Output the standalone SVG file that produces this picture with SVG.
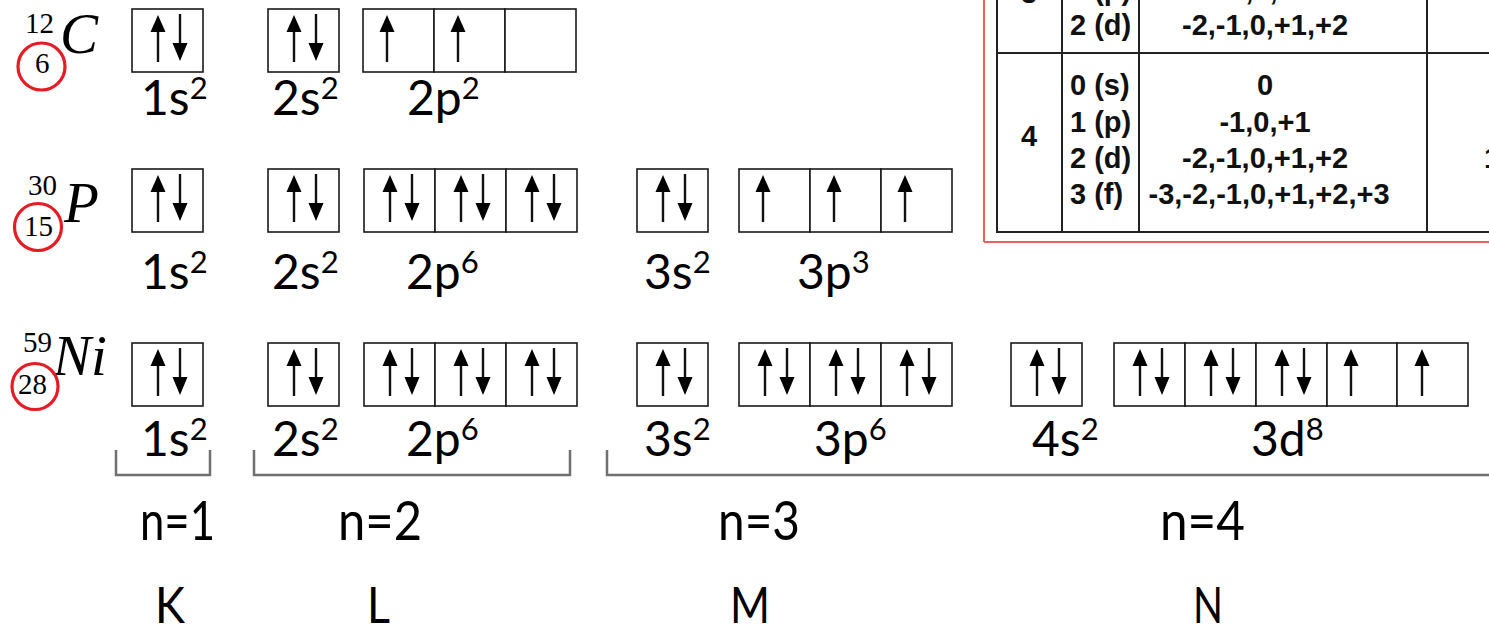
<svg xmlns="http://www.w3.org/2000/svg" xmlns:xlink="http://www.w3.org/1999/xlink" width="1489" height="626" viewBox="0 0 1489 626">
<style>
.box{fill:#fff;stroke:#1a1a1a;stroke-width:1.6}
.lbl{font-family:Lato,"Open Sans",sans-serif;font-size:48px;fill:#000}
.sup{font-size:31px}
.big{font-family:Lato,"Open Sans",sans-serif;font-size:54px;fill:#000}
.shell{font-family:Lato,"Open Sans",sans-serif;font-size:50px;fill:#000}
.num{font-family:"Liberation Serif",serif;font-size:29px;fill:#000}
.sym{font-family:"Liberation Serif",serif;font-style:italic;font-size:57px;fill:#000}
.zc{fill:none;stroke:#e51c23;stroke-width:3.2}
.tb{font-family:"Liberation Sans",Arial,sans-serif;font-weight:bold;font-size:29px;fill:#111}
.tl{stroke:#222;stroke-width:2;fill:none}
.br{stroke:#707070;stroke-width:2.5;fill:none}
</style>
<defs>
<g id="up"><rect x="-1.2" y="22" width="2.4" height="31" fill="#111"/><path d="M0,6 L7.5,23 L-7.5,23 Z" fill="#000"/></g>
<g id="dn"><rect x="-1.2" y="5" width="2.4" height="30" fill="#111"/><path d="M-7.5,34 L7.5,34 L0,52 Z" fill="#000"/></g>
<g id="pair"><use xlink:href="#up" x="26"/><use xlink:href="#dn" x="48"/></g>
<g id="single"><use xlink:href="#up" x="24"/></g>
</defs>

<!-- Quantum number table (partial, top right) -->
<g id="table">
<line x1="984" y1="0" x2="984" y2="242" stroke="#e8635a" stroke-width="2"/>
<line x1="984" y1="242" x2="1489" y2="242" stroke="#e8635a" stroke-width="2"/>
<line class="tl" x1="997" y1="0" x2="997" y2="233"/>
<line class="tl" x1="1062" y1="0" x2="1062" y2="233"/>
<line class="tl" x1="1139" y1="0" x2="1139" y2="233"/>
<line class="tl" x1="1427" y1="0" x2="1427" y2="233"/>
<line class="tl" x1="997" y1="53" x2="1489" y2="53"/>
<line class="tl" x1="997" y1="232" x2="1489" y2="232"/>
<text class="tb" x="1029" y="3" text-anchor="middle">3</text>
<text class="tb" x="1070" y="0">1 (p)</text>
<text class="tb" x="1265" y="0" text-anchor="middle">-1,0,+1</text>
<text class="tb" x="1070" y="35">2 (d)</text>
<text class="tb" x="1265" y="35" text-anchor="middle">-2,-1,0,+1,+2</text>
<text class="tb" x="1029" y="146" text-anchor="middle">4</text>
<text class="tb" x="1070" y="95">0 (s)</text>
<text class="tb" x="1070" y="132">1 (p)</text>
<text class="tb" x="1070" y="168">2 (d)</text>
<text class="tb" x="1070" y="204">3 (f)</text>
<text class="tb" x="1265" y="95" text-anchor="middle">0</text>
<text class="tb" x="1265" y="132" text-anchor="middle">-1,0,+1</text>
<text class="tb" x="1265" y="168" text-anchor="middle">-2,-1,0,+1,+2</text>
<text class="tb" x="1269" y="204" text-anchor="middle">-3,-2,-1,0,+1,+2,+3</text>
<text class="tb" x="1484" y="168">1</text>
</g>

<!-- Carbon -->
<g id="carbon">
<g id="c-symbol">
<text class="num" x="25" y="33" font-size="30">12</text>
<text class="sym" x="60" y="53">C</text>
<circle class="zc" cx="41.5" cy="66.5" r="23.5"/>
<text class="num" x="35" y="73" font-size="28">6</text>
</g>
<g id="c-1s"><rect class="box" x="132" y="9" width="71" height="63"/><use xlink:href="#pair" x="132" y="9"/><text class="lbl" x="141" y="115">1s<tspan class="sup" dy="-16">2</tspan></text></g>
<g id="c-2s"><rect class="box" x="268" y="9" width="71" height="63"/><use xlink:href="#pair" x="268" y="9"/><text class="lbl" x="272" y="115">2s<tspan class="sup" dy="-16">2</tspan></text></g>
<g id="c-2p"><rect class="box" x="363" y="9" width="71" height="63"/><rect class="box" x="434" y="9" width="71" height="63"/><rect class="box" x="505" y="9" width="71" height="63"/><use xlink:href="#single" x="363" y="9"/><use xlink:href="#single" x="434" y="9"/><text class="lbl" x="407" y="115">2p<tspan class="sup" dy="-16">2</tspan></text></g>
</g>

<!-- Phosphorus -->
<g id="phosphorus">
<g id="p-symbol">
<text class="num" x="28" y="195" font-size="28">30</text>
<text class="sym" x="64" y="222" font-size="55">P</text>
<circle class="zc" cx="38" cy="227" r="23.5"/>
<text class="num" x="24" y="236" font-size="28">15</text>
</g>
<g id="p-1s"><rect class="box" x="132" y="169" width="71" height="63"/><use xlink:href="#pair" x="132" y="169"/><text class="lbl" x="141" y="289">1s<tspan class="sup" dy="-16">2</tspan></text></g>
<g id="p-2s"><rect class="box" x="268" y="169" width="71" height="63"/><use xlink:href="#pair" x="268" y="169"/><text class="lbl" x="272" y="289">2s<tspan class="sup" dy="-16">2</tspan></text></g>
<g id="p-2p"><rect class="box" x="364" y="169" width="71" height="63"/><rect class="box" x="435" y="169" width="71" height="63"/><rect class="box" x="506" y="169" width="71" height="63"/><use xlink:href="#pair" x="364" y="169"/><use xlink:href="#pair" x="435" y="169"/><use xlink:href="#pair" x="506" y="169"/><text class="lbl" x="406" y="289">2p<tspan class="sup" dy="-16">6</tspan></text></g>
<g id="p-3s"><rect class="box" x="637" y="169" width="71" height="63"/><use xlink:href="#pair" x="637" y="169"/><text class="lbl" x="644" y="289">3s<tspan class="sup" dy="-16">2</tspan></text></g>
<g id="p-3p"><rect class="box" x="739" y="169" width="71" height="63"/><rect class="box" x="810" y="169" width="71" height="63"/><rect class="box" x="881" y="169" width="71" height="63"/><use xlink:href="#single" x="739" y="169"/><use xlink:href="#single" x="810" y="169"/><use xlink:href="#single" x="881" y="169"/><text class="lbl" x="797" y="289">3p<tspan class="sup" dy="-16">3</tspan></text></g>
</g>

<!-- Nickel -->
<g id="nickel">
<g id="ni-symbol">
<text class="num" x="23" y="352" font-size="28">59</text>
<text class="sym" x="53" y="375" font-size="55">Ni</text>
<circle class="zc" cx="35" cy="386.5" r="23"/>
<text class="num" x="18" y="394" font-size="28">28</text>
</g>
<g id="ni-1s"><rect class="box" x="132" y="343" width="71" height="63"/><use xlink:href="#pair" x="132" y="343"/><text class="lbl" x="141" y="456">1s<tspan class="sup" dy="-16">2</tspan></text></g>
<g id="ni-2s"><rect class="box" x="268" y="343" width="71" height="63"/><use xlink:href="#pair" x="268" y="343"/><text class="lbl" x="272" y="456">2s<tspan class="sup" dy="-16">2</tspan></text></g>
<g id="ni-2p"><rect class="box" x="364" y="343" width="71" height="63"/><rect class="box" x="435" y="343" width="71" height="63"/><rect class="box" x="506" y="343" width="71" height="63"/><use xlink:href="#pair" x="364" y="343"/><use xlink:href="#pair" x="435" y="343"/><use xlink:href="#pair" x="506" y="343"/><text class="lbl" x="406" y="456">2p<tspan class="sup" dy="-16">6</tspan></text></g>
<g id="ni-3s"><rect class="box" x="637" y="343" width="71" height="63"/><use xlink:href="#pair" x="637" y="343"/><text class="lbl" x="644" y="456">3s<tspan class="sup" dy="-16">2</tspan></text></g>
<g id="ni-3p"><rect class="box" x="739" y="343" width="71" height="63"/><rect class="box" x="810" y="343" width="71" height="63"/><rect class="box" x="881" y="343" width="71" height="63"/><use xlink:href="#pair" x="739" y="343"/><use xlink:href="#pair" x="810" y="343"/><use xlink:href="#pair" x="881" y="343"/><text class="lbl" x="814" y="456">3p<tspan class="sup" dy="-16">6</tspan></text></g>
<g id="ni-4s"><rect class="box" x="1011" y="343" width="71" height="63"/><use xlink:href="#pair" x="1011" y="343"/><text class="lbl" x="1032" y="456">4s<tspan class="sup" dy="-16">2</tspan></text></g>
<g id="ni-3d"><rect class="box" x="1114" y="343" width="71" height="63"/><rect class="box" x="1185" y="343" width="71" height="63"/><rect class="box" x="1256" y="343" width="71" height="63"/><rect class="box" x="1327" y="343" width="70" height="63"/><rect class="box" x="1397" y="343" width="71" height="63"/><use xlink:href="#pair" x="1114" y="343"/><use xlink:href="#pair" x="1185" y="343"/><use xlink:href="#pair" x="1256" y="343"/><use xlink:href="#single" x="1327" y="343"/><use xlink:href="#single" x="1398" y="343"/><text class="lbl" x="1251" y="456">3d<tspan class="sup" dy="-16">8</tspan></text></g>
</g>

<!-- Shell brackets -->
<g id="connectors">
<path class="br" d="M116,450 V475 H210 V450"/>
<path class="br" d="M254,450 V475 H570 V450"/>
<path class="br" d="M607,450 V475 H1489"/>
</g>

<!-- Shell labels -->
<g id="shells">
<text class="big" x="140" y="540" textLength="75" lengthAdjust="spacingAndGlyphs">n=1</text>
<text class="big" x="338" y="540" textLength="84" lengthAdjust="spacingAndGlyphs">n=2</text>
<text class="big" x="718" y="540" textLength="82" lengthAdjust="spacingAndGlyphs">n=3</text>
<text class="big" x="1160" y="540" textLength="85" lengthAdjust="spacingAndGlyphs">n=4</text>
<text class="shell" x="155" y="623" textLength="30" lengthAdjust="spacingAndGlyphs">K</text>
<text class="shell" x="367" y="623" textLength="23" lengthAdjust="spacingAndGlyphs">L</text>
<text class="shell" x="730" y="623" textLength="40" lengthAdjust="spacingAndGlyphs">M</text>
<text class="shell" x="1193" y="623" textLength="30" lengthAdjust="spacingAndGlyphs">N</text>
</g>
</svg>
